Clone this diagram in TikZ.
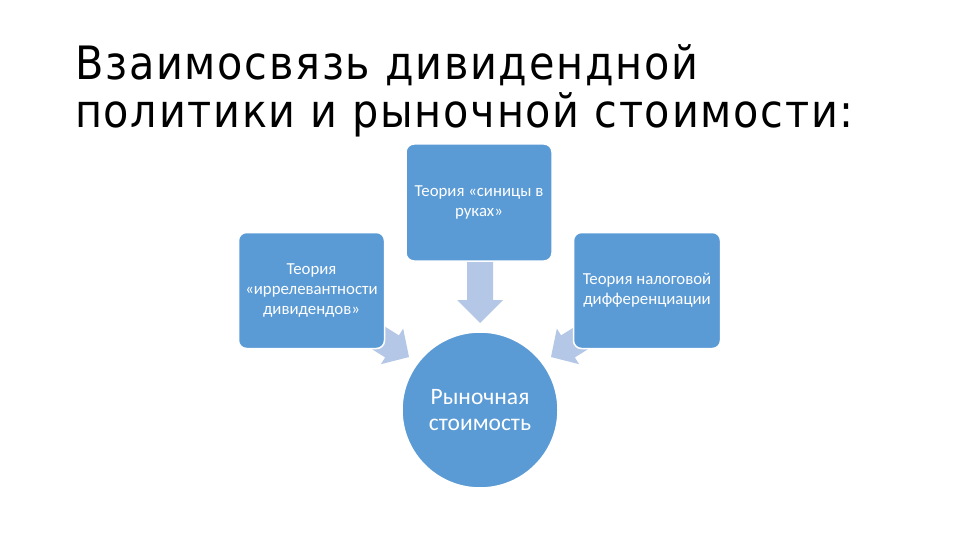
\documentclass[tikz,border=0pt]{standalone}
\usepackage{fontspec}
\setmainfont{Carlito}
\newfontfamily\titlefont[LetterSpace=3.8]{DejaVu Sans Condensed}
\definecolor{boxblue}{RGB}{91,155,213}
\definecolor{arrowblue}{RGB}{180,199,231}
\begin{document}
\begin{tikzpicture}[x=1pt,y=1pt,
  theorybox/.style={rectangle, rounded corners=8pt, fill=boxblue, draw=white, line width=1.5pt,
    text=white, align=center, font=\fontsize{16.8}{20}\selectfont, inner sep=4pt},
  valuecircle/.style={circle, fill=boxblue, draw=white, line width=1.5pt, text=white,
    align=center, font=\fontsize{23.5}{26}\selectfont, minimum size=156pt, inner sep=0pt},
  blockarrow/.style={fill=arrowblue, draw=none},
  titletext/.style={anchor=base west, inner sep=0pt, font=\titlefont\fontsize{46}{48}\selectfont}]
\useasboundingbox (0,0) rectangle (960,-540);
\fill[white] (0,0) rectangle (960,-540);
% title
\node[titletext] (t1) at (75,-80) {Взаимосвязь дивидендной};
\node[titletext] (t2) at (75,-128) {политики и рыночной стоимости:};
% arrows (drawn first, under the boxes)
\coordinate (tipT) at (480,-323);
\coordinate (tipL) at (409,-357);
\coordinate (tipR) at (551,-357);
\begin{scope}[shift={(tipT)}, rotate=-90]
  \fill[blockarrow] (0,0) -- (-23,23) -- (-23,13) -- (-62,13) -- (-62,-13) -- (-23,-13) -- (-23,-23) -- cycle;
\end{scope}
\begin{scope}[shift={(tipL)}, rotate=-32]
  \fill[blockarrow] (0,0) -- (-20,21) -- (-20,13) -- (-60,13) -- (-60,-13) -- (-20,-13) -- (-20,-21) -- cycle;
\end{scope}
\begin{scope}[shift={(tipR)}, rotate=-148]
  \fill[blockarrow] (0,0) -- (-20,21) -- (-20,13) -- (-60,13) -- (-60,-13) -- (-20,-13) -- (-20,-21) -- cycle;
\end{scope}
% boxes
\node[theorybox, minimum width=146pt, minimum height=117pt] (top) at (479,-202.5) {Теория «синицы в\\руках»};
\node[theorybox, minimum width=146pt, minimum height=116pt] (left) at (311.5,-290.5) {Теория\\«иррелевантности\\дивидендов»};
\node[theorybox, minimum width=147pt, minimum height=116pt] (right) at (647,-290.5) {Теория налоговой\\дифференциации};
\node[valuecircle] (value) at (480,-410) {Рыночная\\стоимость};
\end{tikzpicture}
\end{document}
